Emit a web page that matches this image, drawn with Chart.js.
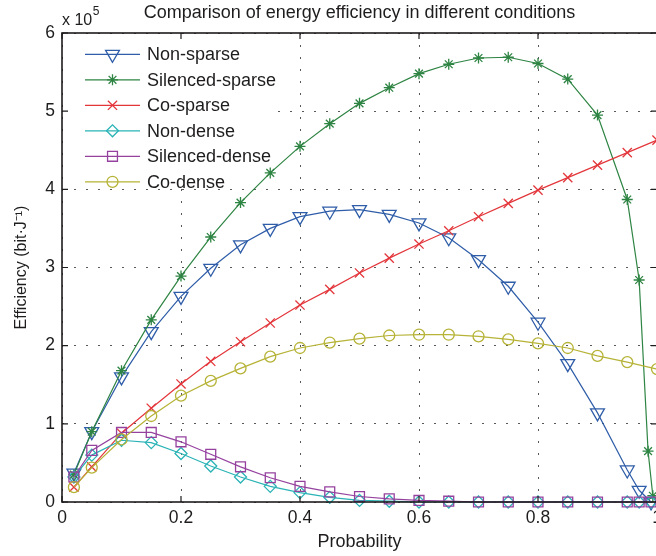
<!DOCTYPE html>
<html>
<head>
<meta charset="utf-8">
<script src="https://cdn.jsdelivr.net/npm/chart.js@4.4.1/dist/chart.umd.min.js"></script>
<style>
  html, body { margin: 0; padding: 0; background: #fff; overflow: hidden; }
  #wrap { width: 670px; height: 556px; }
</style>
</head>
<body>
<div id="wrap"><canvas id="effChart" width="670" height="556"></canvas></div>
<script>
// probabilities (x) for each group of curves
const probFine = [0.02, 0.05, 0.1, 0.15, 0.2, 0.25, 0.3, 0.35, 0.4, 0.45, 0.5, 0.55, 0.6, 0.65, 0.7, 0.75, 0.8, 0.85, 0.9, 0.95, 0.97, 0.99];
const probSilenced = [0.02, 0.05, 0.1, 0.15, 0.2, 0.25, 0.3, 0.35, 0.4, 0.45, 0.5, 0.55, 0.6, 0.65, 0.7, 0.75, 0.8, 0.85, 0.9, 0.95, 0.97, 0.985, 0.993];
const probCo = [0.02, 0.05, 0.1, 0.15, 0.2, 0.25, 0.3, 0.35, 0.4, 0.45, 0.5, 0.55, 0.6, 0.65, 0.7, 0.75, 0.8, 0.85, 0.9, 0.95, 1.0];

// efficiency values, in units of 10^5 bit/J
const nonSparse = [0.37, 0.9, 1.6, 2.18, 2.63, 2.99, 3.29, 3.5, 3.65, 3.72, 3.74, 3.68, 3.57, 3.38, 3.1, 2.76, 2.3, 1.77, 1.14, 0.41, 0.15, 0];
const silencedSparse = [0.35, 0.9, 1.68, 2.33, 2.89, 3.39, 3.83, 4.21, 4.55, 4.84, 5.1, 5.3, 5.48, 5.6, 5.68, 5.69, 5.61, 5.41, 4.95, 3.87, 2.84, 0.65, 0.08];
const coSparse = [0.19, 0.45, 0.88, 1.2, 1.51, 1.8, 2.05, 2.29, 2.52, 2.72, 2.93, 3.12, 3.3, 3.47, 3.65, 3.82, 3.99, 4.15, 4.31, 4.47, 4.63];
const nonDense = [0.32, 0.6, 0.79, 0.76, 0.62, 0.46, 0.32, 0.2, 0.12, 0.06, 0.02, 0.01, 0, 0, 0, 0, 0, 0, 0, 0, 0, 0];
const silencedDense = [0.32, 0.66, 0.89, 0.89, 0.77, 0.61, 0.45, 0.31, 0.2, 0.13, 0.07, 0.04, 0.02, 0.01, 0, 0, 0, 0, 0, 0, 0, 0];
const coDense = [0.19, 0.44, 0.8, 1.1, 1.36, 1.55, 1.71, 1.86, 1.97, 2.04, 2.09, 2.13, 2.14, 2.14, 2.12, 2.08, 2.03, 1.97, 1.87, 1.79, 1.7];

const seriesNames = ['Non-sparse', 'Silenced-sparse', 'Co-sparse', 'Non-dense', 'Silenced-dense', 'Co-dense'];
const xTicks = [0, 0.2, 0.4, 0.6, 0.8, 1];
const xTickLabels = ['0', '0.2', '0.4', '0.6', '0.8', '1'];
const yTicks = [0, 1, 2, 3, 4, 5, 6];

const FONT = '"Liberation Sans", Arial, Helvetica, sans-serif';
const INK = '#1e1c1d';

function toPoints(xs, ys) {
    return xs.map((x, i) => ({ x: x, y: ys[i] }));
}

// colour / marker for each curve (matlab style)
const styles = [
    { color: '#2f5da8', pointStyle: 'triangle', radius: 8, rotation: 180 },
    { color: '#2e8443', pointStyle: 'star', radius: 5.5, rotation: 0 },
    { color: '#e3363b', pointStyle: 'crossRot', radius: 6.5, rotation: 0 },
    { color: '#2ab3b6', pointStyle: 'rectRot', radius: 6, rotation: 0 },
    { color: '#95429f', pointStyle: 'rect', radius: 7, rotation: 0 },
    { color: '#b6b337', pointStyle: 'circle', radius: 5.5, rotation: 0 }
];

const seriesData = [
    toPoints(probFine, nonSparse),
    toPoints(probSilenced, silencedSparse),
    toPoints(probCo, coSparse),
    toPoints(probFine, nonDense),
    toPoints(probFine, silencedDense),
    toPoints(probCo, coDense)
];

const datasets = seriesNames.map((name, i) => ({
    label: name,
    data: seriesData[i],
    borderColor: styles[i].color,
    backgroundColor: 'rgba(0,0,0,0)',
    borderWidth: 1.2,
    pointStyle: styles[i].pointStyle,
    pointRadius: styles[i].radius,
    pointRotation: styles[i].rotation,
    pointBorderWidth: 1.3,
    pointBorderColor: styles[i].color,
    pointBackgroundColor: 'rgba(0,0,0,0)',
    tension: 0,
    clip: false,
    order: seriesNames.length - i
}));

// legend drawn inside the plot, line + marker like matlab
// (drawn before the curves so the green one can pass over its corner)
const insideLegend = {
    id: 'insideLegend',
    beforeDatasetsDraw(chart) {
        const ctx = chart.ctx;
        const a = chart.chartArea;
        ctx.save();
        ctx.fillStyle = '#ffffff';
        ctx.fillRect(a.left + 1, a.top + 1, 215, 153);
        chart.data.datasets.forEach((ds, i) => {
            const y = a.top + 21.3 + i * 25.5;
            ctx.strokeStyle = ds.borderColor;
            ctx.lineWidth = 1.2;
            ctx.beginPath();
            ctx.moveTo(a.left + 23, y);
            ctx.lineTo(a.left + 78, y);
            ctx.stroke();
            ctx.fillStyle = 'rgba(0,0,0,0)';
            ctx.lineWidth = ds.pointBorderWidth;
            Chart.helpers.drawPoint(ctx, {
                pointStyle: ds.pointStyle,
                rotation: ds.pointRotation,
                radius: ds.pointRadius,
                borderWidth: ds.pointBorderWidth
            }, a.left + 50.5, y);
            ctx.fillStyle = INK;
            ctx.font = '18px ' + FONT;
            ctx.textBaseline = 'middle';
            ctx.textAlign = 'left';
            ctx.fillText(ds.label, a.left + 85, y + 1);
        });
        ctx.restore();
    }
};

// box round the axes, ticks pointing inwards, and the x 10^5 note
const axesBox = {
    id: 'axesBox',
    afterDatasetsDraw(chart) {
        const ctx = chart.ctx;
        const a = chart.chartArea;
        const sx = chart.scales.x;
        const sy = chart.scales.y;
        ctx.save();
        ctx.strokeStyle = INK;
        ctx.lineWidth = 1.6;
        ctx.strokeRect(a.left, a.top, a.right - a.left, a.bottom - a.top);
        ctx.lineWidth = 1.2;
        ctx.beginPath();
        xTicks.forEach(v => {
            const px = sx.getPixelForValue(v);
            ctx.moveTo(px, a.bottom);
            ctx.lineTo(px, a.bottom - 6);
            ctx.moveTo(px, a.top);
            ctx.lineTo(px, a.top + 6);
        });
        yTicks.forEach(v => {
            const py = sy.getPixelForValue(v);
            ctx.moveTo(a.left, py);
            ctx.lineTo(a.left + 6, py);
            ctx.moveTo(a.right, py);
            ctx.lineTo(a.right - 6, py);
        });
        ctx.stroke();

        ctx.fillStyle = INK;
        ctx.textBaseline = 'alphabetic';
        ctx.textAlign = 'left';
        ctx.font = '16px ' + FONT;
        ctx.fillText('x 10', a.left, 25);
        const w = ctx.measureText('x 10').width;
        ctx.font = '12px ' + FONT;
        ctx.fillText('5', a.left + w + 0.5, 15);
        ctx.restore();
    }
};

const ctx = document.getElementById('effChart').getContext('2d');
new Chart(ctx, {
    type: 'line',
    data: { datasets: datasets },
    options: {
        responsive: false,
        devicePixelRatio: 1,
        animation: false,
        layout: { padding: { left: 0, right: 13, top: 0, bottom: 0 } },
        plugins: {
            legend: { display: false },
            tooltip: { enabled: false },
            title: {
                display: true,
                fullSize: false,
                text: 'Comparison of energy efficiency in different conditions',
                color: INK,
                font: { family: FONT, size: 18, weight: 'normal' },
                padding: { top: 2, bottom: 9.4 }
            }
        },
        scales: {
            x: {
                type: 'linear',
                min: 0,
                max: 1,
                afterBuildTicks: scale => { scale.ticks = xTicks.map(v => ({ value: v })); },
                ticks: {
                    color: INK,
                    padding: 6,
                    maxRotation: 0,
                    font: { family: FONT, size: 17.5 },
                    callback: (value, index) => xTickLabels[index]
                },
                grid: { color: 'rgba(0,0,0,0.65)', lineWidth: 1, drawTicks: false },
                border: { display: false, dash: [2, 10] },
                title: {
                    display: true,
                    text: 'Probability',
                    color: INK,
                    font: { family: FONT, size: 18 },
                    padding: { top: 0, bottom: 3.2 }
                },
                afterFit: scale => { scale.height = 54; }
            },
            y: {
                type: 'linear',
                min: 0,
                max: 6,
                afterBuildTicks: scale => { scale.ticks = yTicks.map(v => ({ value: v })); },
                ticks: {
                    color: INK,
                    padding: 7,
                    font: { family: FONT, size: 17.5 }
                },
                grid: { color: 'rgba(0,0,0,0.65)', lineWidth: 1, drawTicks: false },
                border: { display: false, dash: [2, 10] },
                title: {
                    display: true,
                    text: 'Efficiency (bit·J⁻¹)',
                    color: INK,
                    font: { family: FONT, size: 16 },
                    padding: { top: 12.4, bottom: 0 }
                },
                afterFit: scale => { scale.width = 62; }
            }
        }
    },
    plugins: [insideLegend, axesBox]
});
</script>
</body>
</html>
